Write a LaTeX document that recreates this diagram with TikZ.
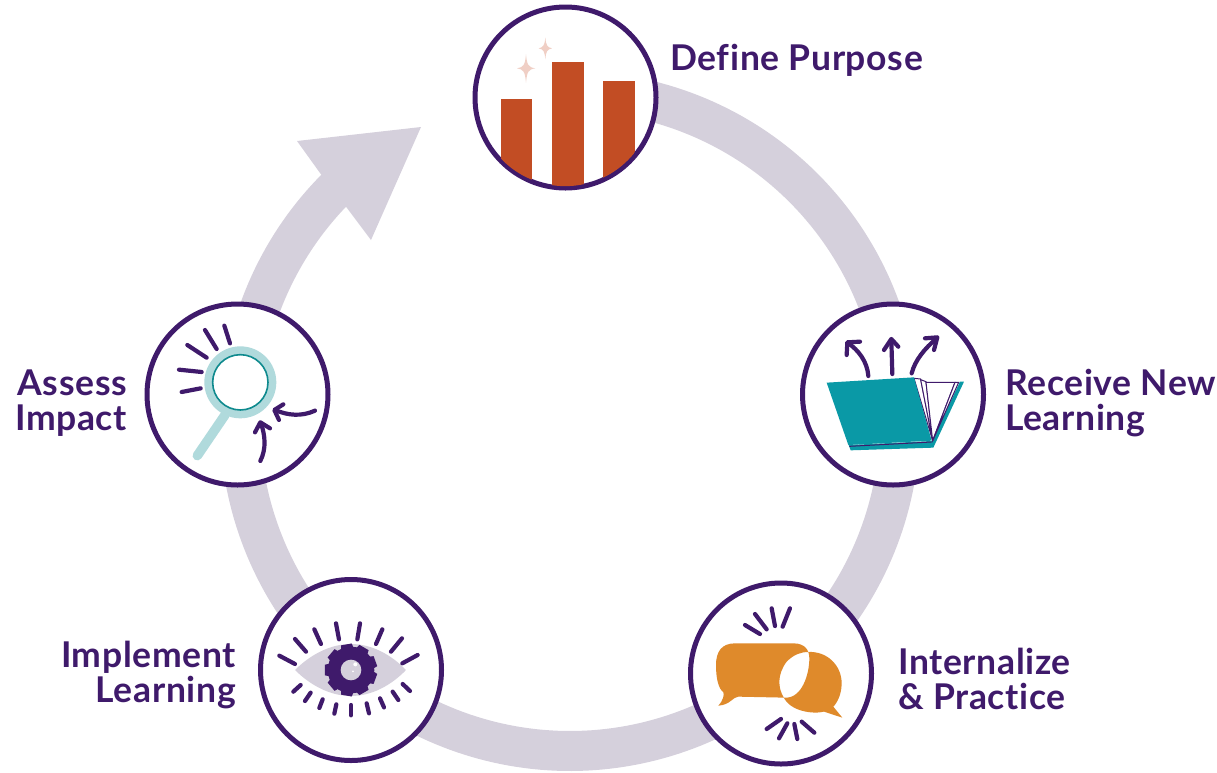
\documentclass[tikz,border=0pt]{standalone}
\usepackage{fontspec}
\setmainfont{Lato}[BoldFont={Lato Bold},BoldFeatures={LetterSpace=1.8,Ligatures=NoCommon}]
\definecolor{ringc}{HTML}{D5D0DC}
\definecolor{purp}{HTML}{3F1A6B}
\definecolor{rust}{HTML}{C24D24}
\definecolor{pinkc}{HTML}{F0CFC5}
\definecolor{tealc}{HTML}{0A99A6}
\definecolor{orangec}{HTML}{DF8A2B}
\definecolor{ltteal}{HTML}{B0DADC}
\definecolor{dkteal}{HTML}{0F8A8E}
\tikzset{
  stage/.style={circle,draw=purp,line width=5pt,fill=white,minimum size=181pt,inner sep=0pt},
  lab/.style={text=purp,font=\fontsize{35.5}{35.5}\selectfont\bfseries,inner sep=0pt,align=left},
  labr/.style={text=purp,font=\fontsize{35.5}{35.5}\selectfont\bfseries,inner sep=0pt,align=right},
  sharp/.style={draw=purp,line width=4.2pt,line cap=round,line join=round},
  zoomed/.style={x=0.3333pt,y=-0.3333pt}
}
\begin{document}
\begin{tikzpicture}[x=1pt,y=-1pt]
\useasboundingbox (0,0) rectangle (1217,772);
% ring
\draw[ringc,line width=40pt] plot[domain=80:-225,samples=240] ({570+330*cos(\x)},{421-330*sin(\x)});
\coordinate (headL) at (297,141);
\coordinate (headT) at (421,127);
\coordinate (headR) at (371,240);
\coordinate (headI) at (320,173);
\coordinate (headJ) at (347,208);
\fill[ringc] (headI) -- (headL) -- (headT) -- (headR) -- (headJ) -- cycle;
% stages
\node[stage] (define) at (565.5,97.5) {};
\node[stage] (receive) at (893,394.5) {};
\node[stage] (internalize) at (781,673.5) {};
\node[stage] (implement) at (351,670) {};
\node[stage] (assess) at (237.5,394.5) {};
% labels
\node[lab,anchor=west] (t1) at (670,60) {Define Purpose};
\node[lab,anchor=west] (t2) at (1005,403) {Receive New\\Learning};
\node[lab,anchor=west] (t3) at (898,679) {Internalize\\\& Practice};
\node[labr,anchor=east] (t4) at (236,675) {Implement\\Learning};
\node[labr,anchor=east] (t5) at (127,403) {Assess\\Impact};
% bars
\begin{scope}[shift={(460,0)},zoomed]
\begin{scope}
\clip (315.5,292.5) circle[radius=266];
\fill[rust] (122,296) rectangle (216,600);
\fill[rust] (277,185) rectangle (371,600);
\fill[rust] (430,244) rectangle (524,600);
\end{scope}
\fill[pinkc] (198,163) .. controls (201,195) and (205,202) .. (226,205) .. controls (205,208) and (201,215) .. (198,248) .. controls (195,215) and (191,208) .. (171,205) .. controls (191,202) and (195,195) .. (198,163) -- cycle;
\fill[pinkc] (256,112) .. controls (258,135) and (261,142) .. (276,145) .. controls (261,148) and (258,155) .. (256,178) .. controls (254,155) and (251,148) .. (236,145) .. controls (251,142) and (254,135) .. (256,112) -- cycle;
\end{scope}
% book
\begin{scope}[shift={(790,295)},zoomed]
\fill[tealc] (510,260) -- (522,260) -- (430,458) -- (182,466) -- (176,450) -- (425,438) -- cycle;
\draw[purp,line width=1pt,fill=white] (372,250) -- (392,252) -- (428,437) -- cycle;
\draw[purp,line width=1pt,fill=white] (392,254) -- (408,260) -- (428,437) -- cycle;
\draw[purp,line width=1pt,fill=white] (408,262) -- (495,262) -- (428,437) -- cycle;
\draw[purp,line width=1pt,fill=white] (495,262) -- (506,262) -- (428,437) -- cycle;
\fill[tealc] (110,263) -- (372,247) -- (425,437) -- (175,450) -- cycle;
\draw[purp,line width=1pt] (178,454) -- (425,441);
\draw[sharp] (235,243) .. controls (232,200) and (205,165) .. (175,145);
\draw[sharp] (170,180) -- (172,142) -- (210,140);
\draw[sharp] (307,237) -- (304,135);
\draw[sharp] (282,165) -- (304,132) -- (325,155);
\draw[sharp] (365,235) .. controls (375,195) and (405,160) .. (440,130);
\draw[sharp] (405,130) -- (442,127) -- (432,165);
\end{scope}
% talk
\begin{scope}[shift={(680,575)},zoomed]
\fill[orangec,even odd rule] (165,205) -- (340,205) .. controls (375,205) and (388,225) .. (388,250) .. controls (388,300) and (365,368) .. (318,368) -- (175,365) .. controls (160,365) and (150,390) .. (115,392) .. controls (130,375) and (133,360) .. (130,352) .. controls (115,340) and (108,310) .. (108,270) .. controls (108,230) and (125,205) .. (165,205) -- cycle
(385,231) .. controls (440,228) and (485,270) .. (485,325) .. controls (485,360) and (470,385) .. (460,395) -- (487,428) -- (432,410) .. controls (400,418) and (330,410) .. (310,365) .. controls (295,340) and (290,300) .. (320,260) .. controls (340,240) and (360,231) .. (385,231) -- cycle;
\foreach \a/\b/\c/\d in {195/150/240/177,225/117/260/163,275/100/285/153,330/100/308/155,303/432/260/462,322/445/297/490,343/447/352/492,365/440/403/473}
  \draw[sharp] (\a,\b) -- (\c,\d);
\end{scope}
% eye
\begin{scope}[shift={(250,570)},zoomed]
\fill[ringc] (135,300) .. controls (180,255) and (240,222) .. (303,222) .. controls (366,222) and (425,255) .. (468,300) .. controls (425,345) and (366,378) .. (303,378) .. controls (240,378) and (180,345) .. (135,300) -- cycle;
\fill[purp] (303,300) circle[radius=70];
\foreach \t in {0,40,...,320}
  \fill[purp,rotate around={\t+10:(303,300)}] (287,222) -- (319,222) -- (324,245) -- (282,245) -- cycle;
\fill[ringc] (303,300) circle[radius=31];
\fill[white] (316,283) circle[radius=6];
\fill[white] (309,304) circle[radius=3];
\foreach \a/\b/\c/\d in {88/257/135/282,135/207/168/245,193/178/213/222,258/160/267/208,330/160/322/208,397/178/378/222,456/205/423/245,503/255/457/280,130/365/152/345,165/393/182/368,208/414/218/388,253/431/259/403,303/436/303/405,357/430/350/400,402/412/390/385,445/390/428/365,480/363/458/342}
  \draw[sharp] (\a,\b) -- (\c,\d);
\end{scope}
% magnifier
\begin{scope}[shift={(135,295)},zoomed]
\draw[ltteal,line width=9.5pt,line cap=round] (270,360) -- (187,482);
\fill[ltteal] (316,262) circle[radius=108];
\fill[white] (316,262) circle[radius=83];
\draw[dkteal,line width=1.6pt] (316,262) circle[radius=83];
\foreach \a/\b/\c/\d in {268/92/285/145,210/105/245/162,157/150/215/188,132/224/200/231,140/291/197/280}
  \draw[sharp] (\a,\b) -- (\c,\d);
\draw[sharp] (540,347) .. controls (500,365) and (460,362) .. (420,345);
\draw[sharp] (445,328) -- (418,345) -- (432,375);
\draw[sharp] (376,498) .. controls (395,460) and (390,420) .. (378,385);
\draw[sharp] (360,412) -- (376,382) -- (405,400);
\end{scope}
\end{tikzpicture}
\end{document}
